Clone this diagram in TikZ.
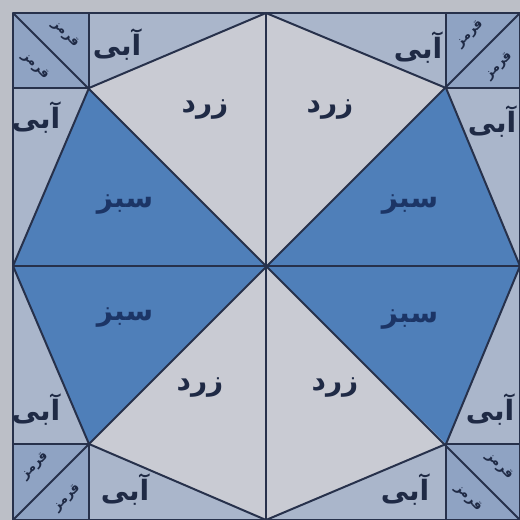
\documentclass[tikz,border=0pt]{standalone}
\usepackage{fontspec}
\TeXXeTstate=1
\newfontfamily\arabicfont[Script=Arabic]{DejaVu Sans}
\definecolor{bgcol}{HTML}{BCBFC7}
\definecolor{cornercol}{HTML}{8FA3C3}
\definecolor{abicol}{HTML}{AAB6CB}
\definecolor{zardcol}{HTML}{C9CBD3}
\definecolor{sabzcol}{HTML}{4F7FB9}
\definecolor{linecol}{HTML}{27314B}
\definecolor{txtcol}{HTML}{1F2A45}
\definecolor{sabztxt}{HTML}{1C3566}
\tikzset{
  edge/.style={draw=linecol, line width=1pt, line join=round},
  lbl/.style={font=\arabicfont\bfseries\fontsize{14}{16}\selectfont, text=txtcol, inner sep=0pt},
  sabzlbl/.style={lbl, text=sabztxt},
  redlbl/.style={font=\arabicfont\bfseries\fontsize{6.5}{7}\selectfont, text=txtcol, inner sep=0pt}
}
\begin{document}
\begin{tikzpicture}[x=0.5pt,y=-0.5pt]
\useasboundingbox (0,0) rectangle (520,520);
\fill[bgcol] (0,0) rectangle (520,520);
% key points
\coordinate (A) at (13,13);
\coordinate (B) at (266,13);
\coordinate (C) at (520,13);
\coordinate (D) at (520,266);
\coordinate (E) at (520,520);
\coordinate (F) at (266,520);
\coordinate (G) at (13,520);
\coordinate (H) at (13,266);
\coordinate (O) at (266,266);
\coordinate (P1) at (89,88);
\coordinate (P2) at (446,88);
\coordinate (P3) at (446,444);
\coordinate (P4) at (89,444);
% corner squares
\fill[cornercol] (A) rectangle (P1);
\fill[cornercol] (C) rectangle (P2);
\fill[cornercol] (E) rectangle (P3);
\fill[cornercol] (G) rectangle (P4);
% abi triangles
\fill[abicol] (P1 |- A) -- (B) -- (P1) -- cycle;
\fill[abicol] (P2 |- A) -- (B) -- (P2) -- cycle;
\fill[abicol] (A |- P1) -- (H) -- (P1) -- cycle;
\fill[abicol] (C |- P2) -- (D) -- (P2) -- cycle;
\fill[abicol] (G |- P4) -- (H) -- (P4) -- cycle;
\fill[abicol] (E |- P3) -- (D) -- (P3) -- cycle;
\fill[abicol] (P4 |- G) -- (F) -- (P4) -- cycle;
\fill[abicol] (P3 |- E) -- (F) -- (P3) -- cycle;
% zard
\fill[zardcol] (O) -- (P1) -- (B) -- cycle;
\fill[zardcol] (O) -- (B) -- (P2) -- cycle;
\fill[zardcol] (O) -- (P4) -- (F) -- cycle;
\fill[zardcol] (O) -- (F) -- (P3) -- cycle;
% sabz
\fill[sabzcol] (O) -- (P1) -- (H) -- cycle;
\fill[sabzcol] (O) -- (P2) -- (D) -- cycle;
\fill[sabzcol] (O) -- (H) -- (P4) -- cycle;
\fill[sabzcol] (O) -- (D) -- (P3) -- cycle;
% lines
\draw[edge] (A) rectangle (E);
\draw[edge] (B) -- (F);
\draw[edge] (H) -- (D);
\draw[edge] (A) -- (E);
\draw[edge] (C) -- (G);
\draw[edge] (P1) -- (B) -- (P2) -- (D) -- (P3) -- (F) -- (P4) -- (H) -- cycle;
\draw[edge] (P1 |- A) -- (P1) -- (A |- P1);
\draw[edge] (P2 |- C) -- (P2) -- (C |- P2);
\draw[edge] (P3 |- E) -- (P3) -- (E |- P3);
\draw[edge] (P4 |- G) -- (P4) -- (G |- P4);
% labels
\node[lbl] (z1) at (205,110) {\beginR زرد\endR};
\node[lbl] (z2) at (330,110) {\beginR زرد\endR};
\node[lbl] (z3) at (200,388) {\beginR زرد\endR};
\node[lbl] (z4) at (335,388) {\beginR زرد\endR};
\node[sabzlbl] (s1) at (125,205) {\beginR سبز\endR};
\node[sabzlbl] (s2) at (410,205) {\beginR سبز\endR};
\node[sabzlbl] (s3) at (125,318) {\beginR سبز\endR};
\node[sabzlbl] (s4) at (410,320) {\beginR سبز\endR};
\node[lbl] (a1) at (117,45) {\beginR آبی\endR};
\node[lbl] (a2) at (418,48) {\beginR آبی\endR};
\node[lbl] (a3) at (36,118) {\beginR آبی\endR};
\node[lbl] (a4) at (492,122) {\beginR آبی\endR};
\node[lbl] (a5) at (36,410) {\beginR آبی\endR};
\node[lbl] (a6) at (490,410) {\beginR آبی\endR};
\node[lbl] (a7) at (125,490) {\beginR آبی\endR};
\node[lbl] (a8) at (405,490) {\beginR آبی\endR};
% red corner labels
\node[redlbl, rotate=-45] (r1) at (65,34) {\beginR قرمز\endR};
\node[redlbl, rotate=-45] (r2) at (35,66) {\beginR قرمز\endR};
\node[redlbl, rotate=45] (r3) at (470,34) {\beginR قرمز\endR};
\node[redlbl, rotate=45] (r4) at (499,66) {\beginR قرمز\endR};
\node[redlbl, rotate=45] (r5) at (35,466) {\beginR قرمز\endR};
\node[redlbl, rotate=45] (r6) at (67,498) {\beginR قرمز\endR};
\node[redlbl, rotate=-45] (r7) at (499,466) {\beginR قرمز\endR};
\node[redlbl, rotate=-45] (r8) at (468,498) {\beginR قرمز\endR};
\end{tikzpicture}
\end{document}
